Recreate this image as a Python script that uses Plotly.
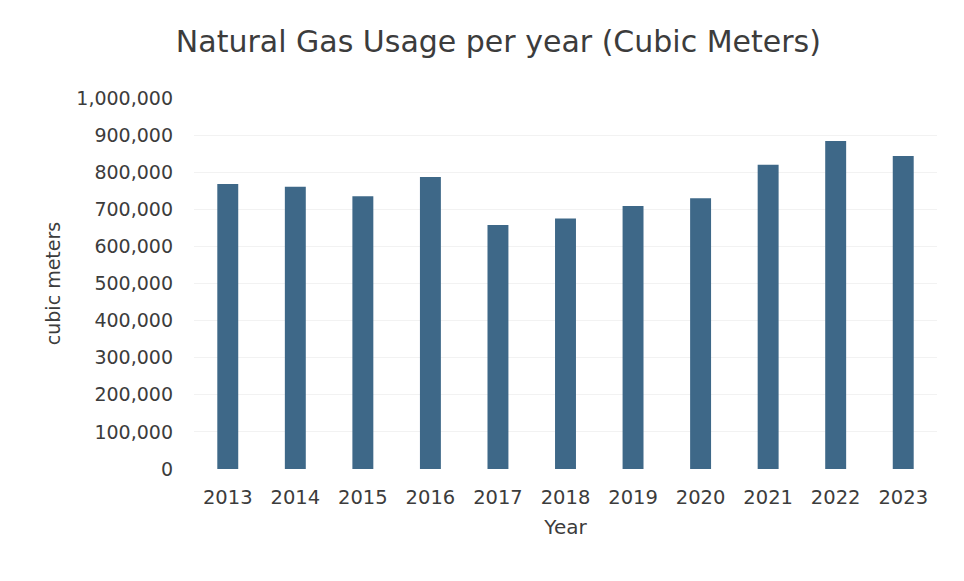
import plotly.graph_objects as go

years = ["2013", "2014", "2015", "2016", "2017", "2018", "2019", "2020", "2021", "2022", "2023"]
usage = [768000, 761000, 735000, 787000, 658000, 675000, 709000, 730000, 820000, 884000, 844000]
y_ticks = [0, 100000, 200000, 300000, 400000, 500000, 600000, 700000, 800000, 900000, 1000000]

font_family = "'DejaVu Sans', sans-serif"
text_color = "#3c3c3c"

fig = go.Figure(go.Bar(
    x=years, y=usage,
    marker=dict(color="#3e6888", line=dict(width=0)),
    width=0.31,
))

fig.update_layout(
    width=964, height=581,
    paper_bgcolor="white", plot_bgcolor="white",
    margin=dict(l=194, r=27, t=98, b=112),
    title=dict(text="Natural Gas Usage per year (Cubic Meters)", x=0.517, xanchor="center",
               y=0.928, yanchor="middle",
               font=dict(family=font_family, size=30, color=text_color)),
    font=dict(family=font_family, color=text_color),
    showlegend=False,
    bargap=0.69,
)
fig.update_xaxes(
    title=dict(text="Year", font=dict(size=20, color=text_color), standoff=12),
    tickfont=dict(size=19.5, color=text_color),
    showgrid=False, showline=False, ticks="", ticklabelstandoff=14,
)
fig.update_yaxes(
    range=[0, 1000000], tickvals=y_ticks, tickformat=",",
    title=dict(text="cubic meters", font=dict(size=19, color=text_color), standoff=10),
    tickfont=dict(size=19, color=text_color),
    showgrid=True, gridcolor="#f2f2f2", gridwidth=1, zeroline=False,
    ticks="", ticklabelstandoff=20,
)

fig.write_html("out.html")
